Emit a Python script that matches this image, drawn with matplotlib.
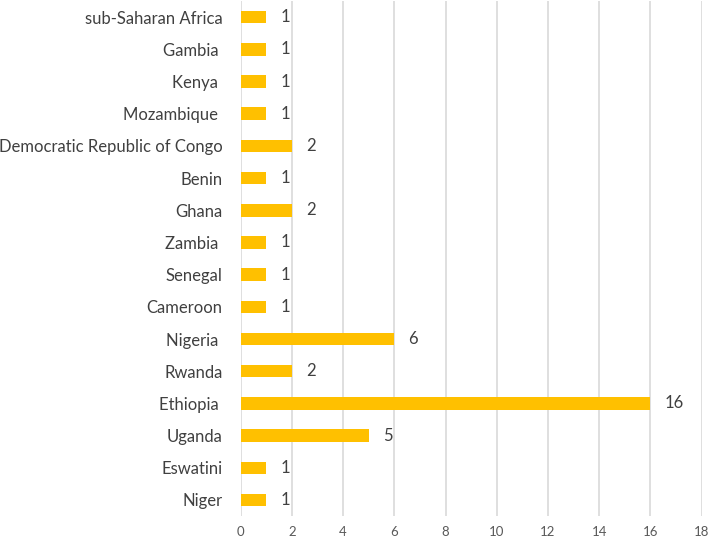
import matplotlib
matplotlib.use("Agg")
import matplotlib.pyplot as plt
import numpy as np

# categories listed from top to bottom as in the chart
countries = ["sub-Saharan Africa", "Gambia ", "Kenya ", "Mozambique ",
             "Democratic Republic of Congo", "Benin", "Ghana", "Zambia ",
             "Senegal", "Cameroon", "Nigeria ", "Rwanda", "Ethiopia ",
             "Uganda", "Eswatini", "Niger"]
counts = [1, 1, 1, 1, 2, 1, 2, 1, 1, 1, 6, 2, 16, 5, 1, 1]
xticks = [0, 2, 4, 6, 8, 10, 12, 14, 16, 18]

plt.rcParams['font.family'] = ['Lato', 'DejaVu Sans']

fig = plt.figure(figsize=(7.08, 5.37), dpi=100)
ax = fig.add_axes([0.340, 0.039, 0.651, 0.959])

y = np.arange(len(countries))
bars = ax.barh(y, counts, height=0.39, color="#FFC000", zorder=3)

ax.set_ylim(len(countries) - 0.5, -0.5)
ax.set_xlim(0, 18)
ax.set_xticks(xticks)
ax.set_yticks(y)
ax.set_yticklabels(countries, fontsize=12, color="#404040")
ax.tick_params(axis='y', length=0, pad=13)
ax.tick_params(axis='x', length=0, labelsize=9.5, labelcolor="#595959", pad=7)

ax.grid(axis='x', color="#D9D9D9", linewidth=1.2, zorder=0)
for s in ax.spines.values():
    s.set_visible(False)

for yi, v in zip(y, counts):
    ax.annotate(str(v), (v, yi), xytext=(10, 0), textcoords='offset points',
                va='center', ha='left', fontsize=12, color="#404040")

fig.savefig("out.png", dpi=100)
